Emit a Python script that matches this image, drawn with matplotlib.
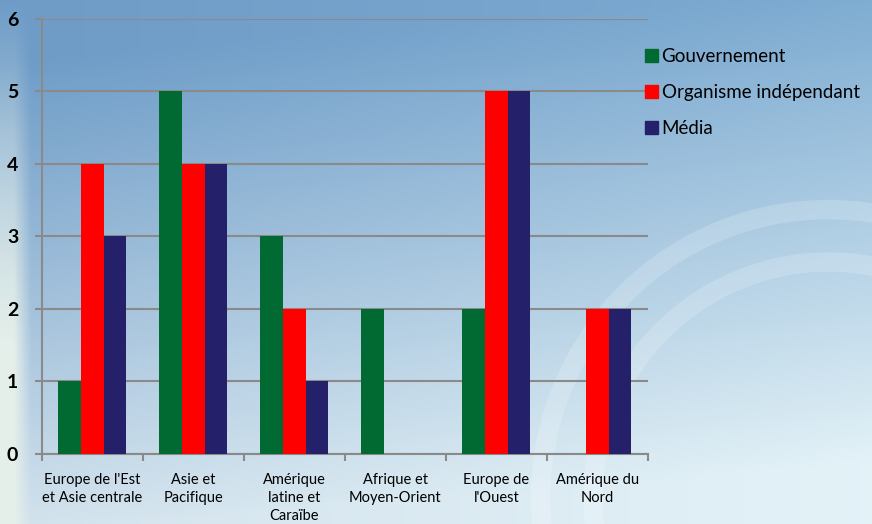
import matplotlib.pyplot as plt
import numpy as np
from matplotlib.patches import Patch

categories = ["Europe de l'Est\net Asie centrale", "Asie et\nPacifique", "Amérique\nlatine et\nCaraïbe",
              "Afrique et\nMoyen-Orient", "Europe de\nl'Ouest", "Amérique du\nNord"]
gouvernement = [1, 5, 3, 2, 2, 0]
organisme = [4, 4, 2, 0, 5, 2]
media = [3, 4, 1, 0, 5, 2]
series_names = ["Gouvernement", "Organisme indépendant", "Média"]
colors = ["#006a32", "#ff0000", "#24216a"]

plt.rcParams['font.family'] = ['Lato', 'DejaVu Sans']

fig = plt.figure(figsize=(8.72, 5.24), dpi=100)

# fond dégradé bleu
bg = fig.add_axes([0, 0, 1, 1], zorder=-10)
h, w = 262, 436
yy, xx = np.mgrid[0:1:h * 1j, 0:1:w * 1j]
top = np.array([0.46, 0.64, 0.80])
bot = np.array([0.86, 0.92, 0.95])
t = np.clip(yy * 1.1 - 0.05 + 0.15 * (xx - 0.5), 0, 1)[..., None]
img = top * (1 - t) + bot * t
img[:, :, :] += (xx[..., None] - 0.5) * np.array([0.06, 0.06, 0.04])
strip = np.clip((0.035 - xx) / 0.02, 0, 1)[..., None] * np.clip(yy * 1.5, 0, 1)[..., None]
img = img * (1 - strip) + np.array([0.90, 0.94, 0.92]) * strip
bg.imshow(np.clip(img, 0, 1), aspect='auto', extent=[0, 1, 0, 1])
th = np.linspace(0, 2 * np.pi, 300)
for r in [0.55, 0.45]:
    bg.plot(0.95 + r * 0.6 * np.cos(th), 0.05 + r * np.sin(th), color='white', alpha=0.18, lw=14)
bg.set_xlim(0, 1)
bg.set_ylim(0, 1)
bg.axis('off')

ax = fig.add_axes([0.048, 0.134, 0.695, 0.83])
ax.patch.set_alpha(0)
x = np.arange(len(categories))
bw = 0.225
for i, (vals, name, c) in enumerate(zip([gouvernement, organisme, media], series_names, colors)):
    ax.bar(x + (i - 1) * bw, vals, bw, color=c, label=name, zorder=3)

ax.set_xlim(-0.5, len(categories) - 0.5)
ax.set_ylim(0, 6)
ax.set_yticks(range(7))
ax.grid(axis='y', color='#8a8a8a', lw=1.5, zorder=0)
ax.set_xticks(np.arange(-0.5, len(categories), 1))
ax.set_xticklabels([])
ax.set_xticks(x, minor=True)
ax.set_xticklabels(categories, minor=True, fontsize=10.5, linespacing=1.35, color='black')
ax.tick_params(axis='x', which='minor', length=0, pad=14)
ax.tick_params(axis='x', which='major', length=5, color='#8a8a8a', width=1.5)
ax.tick_params(axis='y', length=5, color='#8a8a8a', width=1.5, labelsize=14, pad=12, labelcolor='black')
for lab in ax.get_yticklabels():
    lab.set_fontweight('bold')
for s in ['top', 'right']:
    ax.spines[s].set_visible(False)
for s in ['left', 'bottom']:
    ax.spines[s].set_color('#8a8a8a')
    ax.spines[s].set_linewidth(1.5)

handles = [Patch(color=c) for c in colors]
fig.legend(handles, series_names, loc='upper left', bbox_to_anchor=(0.72, 0.94), frameon=False,
           fontsize=13.5, handlelength=0.7, handleheight=0.7, handletextpad=0.2, labelspacing=1.0)

fig.savefig("out.png", dpi=100)
